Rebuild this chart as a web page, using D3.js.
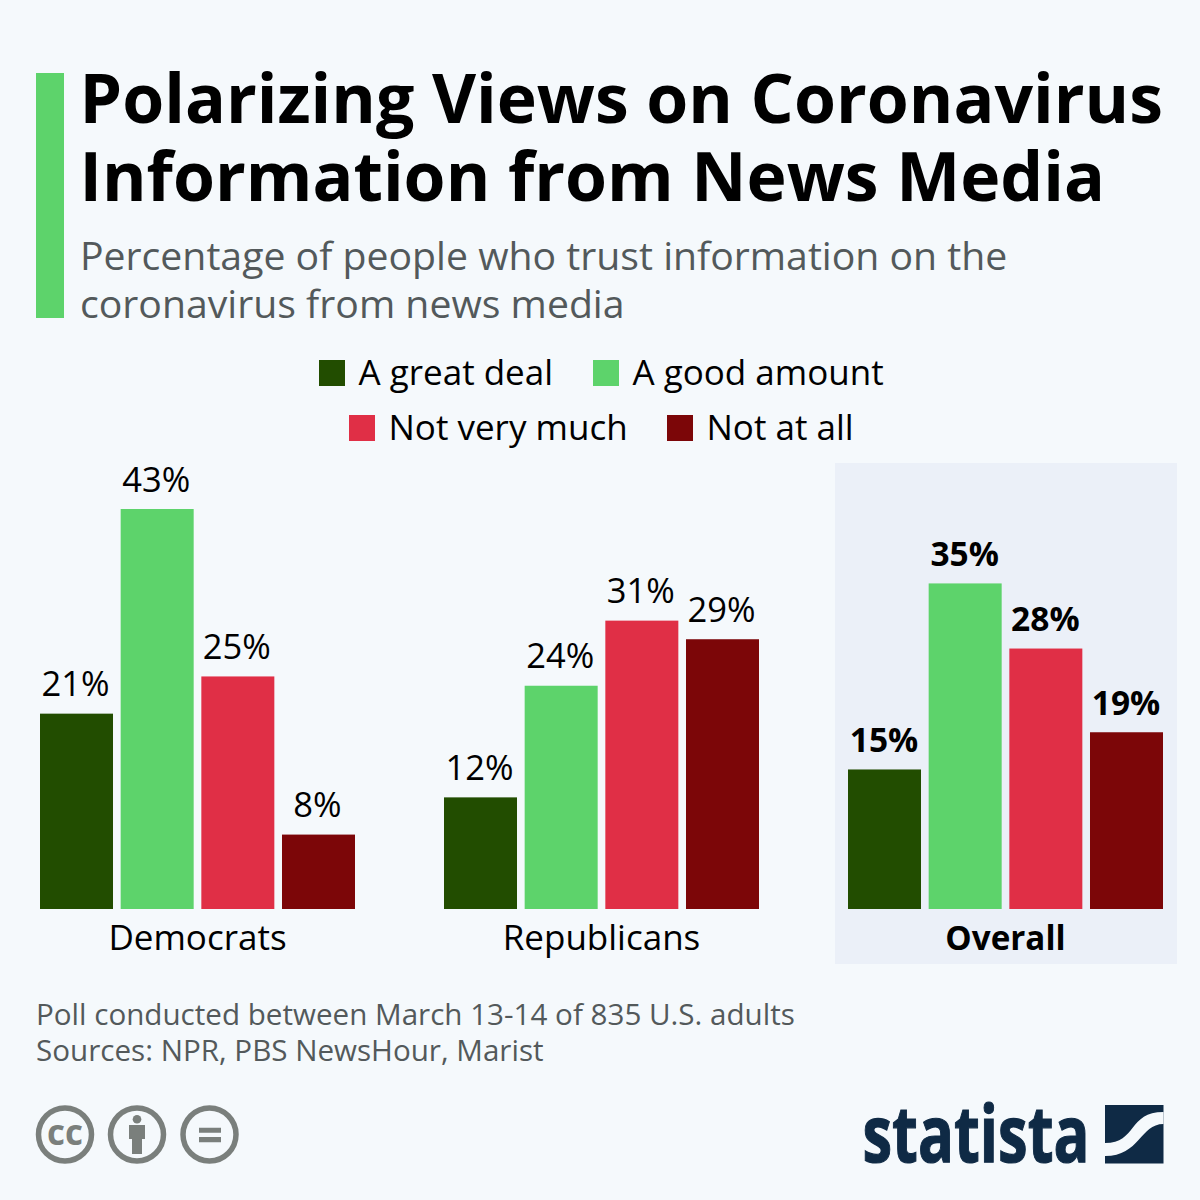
<!DOCTYPE html>
<html>
<head>
<meta charset="utf-8">
<script src="https://cdn.jsdelivr.net/npm/d3@7"></script>
<style>
html, body { margin: 0; padding: 0; background: #f5f9fc; }
text { font-family: "Open Sans", sans-serif; }
</style>
</head>
<body>
<div id="canvas"></div>
<script>
"use strict"

/* Data */
let groups = ["Democrats", "Republicans", "Overall"];
let answers = ["A great deal", "A good amount", "Not very much", "Not at all"];
let democrats = [21, 43, 25, 8];
let republicans = [12, 24, 31, 29];
let overall = [15, 35, 28, 19];
let colors = ["#224d00", "#5dd36b", "#e02f46", "#7c0608"];

let titleLines = ["Polarizing Views on Coronavirus", "Information from News Media"];
let subtitleLines = ["Percentage of people who trust information on the", "coronavirus from news media"];
let footLines = ["Poll conducted between March 13-14 of 835 U.S. adults", "Sources: NPR, PBS NewsHour, Marist"];

let groupValues = [democrats, republicans, overall];

let svg = d3.select("#canvas")
    .append("svg")
    .attr("width", 1200)
    .attr("height", 1200)
    .style("display", "block");

svg.append("rect")
    .attr("width", 1200)
    .attr("height", 1200)
    .attr("fill", "#f5f9fc");

/* Header */
svg.append("rect")
    .attr("x", 36).attr("y", 73)
    .attr("width", 28).attr("height", 245)
    .attr("fill", "#5dd36b");

titleLines.forEach(function (t, i) {
    svg.append("text")
        .attr("x", 79.5).attr("y", 123 + i * 78)
        .attr("font-size", 67.9).attr("font-weight", 700)
        .attr("fill", "#000")
        .text(t);
});

subtitleLines.forEach(function (t, i) {
    svg.append("text")
        .attr("x", 80).attr("y", 270 + i * 48)
        .attr("font-size", 39.2)
        .attr("fill", "#53595b")
        .text(t);
});

/* Legend */
let legendItems = [
    { i: 0, x: 319, y: 360 },
    { i: 1, x: 593, y: 360 },
    { i: 2, x: 349, y: 415 },
    { i: 3, x: 667, y: 415 }
];
legendItems.forEach(function (d) {
    svg.append("rect")
        .attr("x", d.x).attr("y", d.y)
        .attr("width", 26).attr("height", 26)
        .attr("fill", colors[d.i]);
    svg.append("text")
        .attr("x", d.x + 39.5).attr("y", d.y + 25)
        .attr("font-size", 35)
        .attr("fill", "#000")
        .text(answers[d.i]);
});

/* Highlight panel behind Overall */
svg.append("rect")
    .attr("x", 835).attr("y", 463)
    .attr("width", 342).attr("height", 501)
    .attr("fill", "#ebf0f8");

/* Scales */
let yScale = d3.scaleLinear()
    .domain([0, 43])
    .range([909, 509]);

let groupX = d3.scalePoint()
    .domain(groups)
    .range([197.5, 1005.5]);

let barX = d3.scaleBand()
    .domain(answers)
    .range([-157.5, 157.5])
    .paddingInner(0.095);

groups.forEach(function (g, gi) {
    let isOverall = g === "Overall";
    let cell = svg.append("g")
        .attr("transform", "translate(" + groupX(g) + ",0)");

    cell.selectAll("rect")
        .data(groupValues[gi])
        .join("rect")
        .attr("x", function (d, i) { return barX(answers[i]); })
        .attr("y", function (d) { return yScale(d); })
        .attr("width", barX.bandwidth())
        .attr("height", function (d) { return yScale(0) - yScale(d); })
        .attr("fill", function (d, i) { return colors[i]; });

    // Value labels sit slightly left of the bar centre in the original
    cell.selectAll("text.value")
        .data(groupValues[gi])
        .join("text")
        .attr("class", "value")
        .attr("x", function (d, i) { return barX(answers[i]) + barX.bandwidth() / 2 - (isOverall ? 0.5 : 1); })
        .attr("y", function (d) { return yScale(d) - 17.5; })
        .attr("text-anchor", "middle")
        .attr("font-size", isOverall ? 33.5 : 34.5)
        .attr("font-weight", isOverall ? 700 : 400)
        .attr("fill", "#000")
        .text(function (d) { return d + "%"; });

    cell.append("text")
        .attr("x", 0).attr("y", 949.5)
        .attr("text-anchor", "middle")
        .attr("font-size", isOverall ? 33.2 : 35)
        .attr("font-weight", isOverall ? 700 : 400)
        .attr("fill", "#000")
        .text(g);
});

/* Footer */
footLines.forEach(function (t, i) {
    svg.append("text")
        .attr("x", 36).attr("y", 1025 + i * 36)
        .attr("font-size", 29.6)
        .attr("fill", "#53595b")
        .text(t);
});

/* Licence icons */
let iconX = [65, 137, 209.5];
let iconColor = "#7a7f7c";
iconX.forEach(function (x) {
    svg.append("circle")
        .attr("cx", x).attr("cy", 1134.5).attr("r", 26.5)
        .attr("fill", "none")
        .attr("stroke", iconColor)
        .attr("stroke-width", 5.5);
});
svg.append("text")
    .attr("x", 65).attr("y", 1145)
    .attr("text-anchor", "middle")
    .attr("font-size", 35).attr("font-weight", 700)
    .attr("fill", iconColor)
    .text("cc");
svg.append("circle")
    .attr("cx", 137).attr("cy", 1119.3).attr("r", 4.3)
    .attr("fill", iconColor);
svg.append("path")
    .attr("d", "M129 1125H145V1139H142V1154H132V1139H129Z")
    .attr("fill", iconColor);
svg.append("path")
    .attr("d", "M199 1127.7H221V1132.7H199ZM199 1137H221V1142.3H199Z")
    .attr("fill", iconColor);

/* Logo */
svg.append("text")
    .attr("x", 862.5).attr("y", 1162)
    .attr("font-family", "Roboto")
    .attr("font-size", 78).attr("font-weight", 700)
    .attr("fill", "#0f2a45")
    .attr("stroke", "#0f2a45")
    .attr("stroke-width", 1.2)
    .attr("textLength", 227)
    .attr("lengthAdjust", "spacingAndGlyphs")
    .text("statista");
svg.append("rect")
    .attr("x", 1105).attr("y", 1105)
    .attr("width", 58.5).attr("height", 58.5)
    .attr("fill", "#0f2a45");
svg.append("path")
    .attr("d", "M1105 1143C1137 1143 1128 1112 1163.5 1112V1124C1140 1124 1140 1156 1105 1156Z")
    .attr("fill", "#f5f9fc");
</script>
</body>
</html>
